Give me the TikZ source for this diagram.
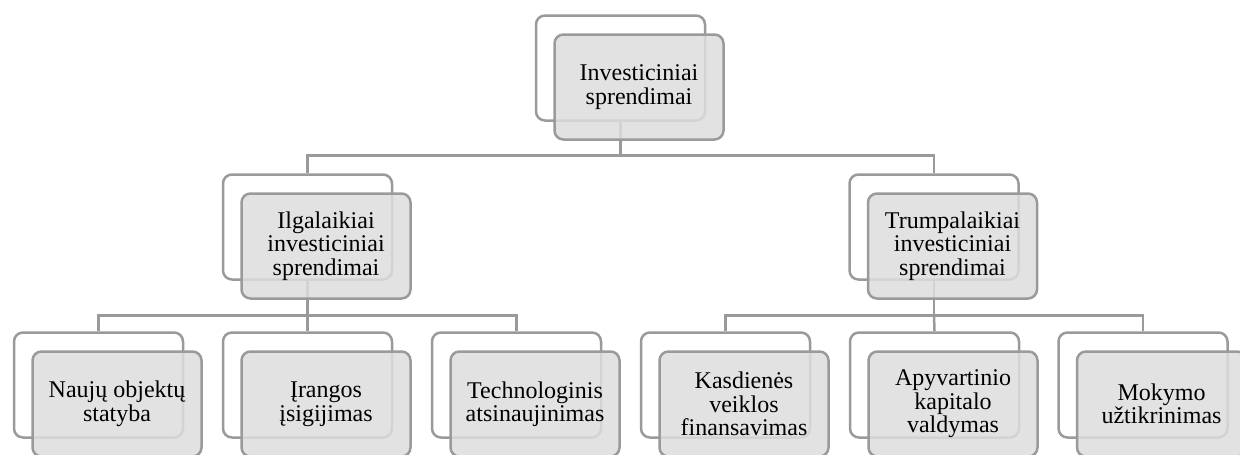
\documentclass[tikz,border=0pt]{standalone}
\usepackage{fontspec}
\setmainfont{Liberation Serif}
\definecolor{edgegray}{RGB}{154,154,154}
\definecolor{boxfill}{RGB}{221,221,221}
\tikzset{
  backbox/.style={draw=edgegray, line width=2.5pt, rounded corners=9pt,
    minimum width=169pt, minimum height=105pt, inner sep=0pt},
  frontbox/.style={draw=edgegray, line width=2.5pt, rounded corners=9pt,
    fill=boxfill, fill opacity=0.85, text opacity=1,
    minimum width=169pt, minimum height=105pt, inner sep=0pt,
    align=center, font=\fontsize{24}{23.5}\selectfont},
  conn/.style={draw=edgegray, line width=2.5pt}
}
\begin{document}
\begin{tikzpicture}[x=1pt,y=-1pt]
\useasboundingbox (0,0) rectangle (1240,455);
% back boxes
\node[backbox] (t) at (620.5,68) {};
\node[backbox] (l) at (307.5,227) {};
\node[backbox] (r) at (934,227) {};
\node[backbox] (a) at (98.5,385) {};
\node[backbox] (b) at (307.5,385) {};
\node[backbox] (c) at (516.5,385) {};
\node[backbox] (d) at (725.5,385) {};
\node[backbox] (e) at (934.5,385) {};
\node[backbox] (f) at (1143,385) {};
% bus coordinates
\coordinate (bus1) at (0,155.5);
\coordinate (bus2) at (0,315.5);
% connectors
\draw[conn] (t.south) -- (t.south |- bus1) -| (l.north);
\draw[conn] (t.south |- bus1) -| (r.north);
\draw[conn] (l.south) -- (l.south |- bus2) -| (a.north);
\draw[conn] (l.south |- bus2) -- (b.north);
\draw[conn] (l.south |- bus2) -| (c.north);
\draw[conn] (r.south) -- (r.south |- bus2) -| (d.north);
\draw[conn] (r.south |- bus2) -- (e.north);
\draw[conn] (r.south |- bus2) -| (f.north);
% front boxes
\node[frontbox] (tf) at ([shift={(18.5,19)}]t.center) {Investiciniai\\sprendimai};
\node[frontbox] (lf) at ([shift={(18.5,19)}]l.center) {Ilgalaikiai\\investiciniai\\sprendimai};
\node[frontbox] (rf) at ([shift={(18.5,19)}]r.center) {Trumpalaikiai\\investiciniai\\sprendimai};
\node[frontbox] (af) at ([shift={(18.5,19)}]a.center) {Naujų objektų\\statyba};
\node[frontbox] (bf) at ([shift={(18.5,19)}]b.center) {Įrangos\\įsigijimas};
\node[frontbox] (cf) at ([shift={(18.5,19)}]c.center) {Technologinis\\atsinaujinimas};
\node[frontbox] (df) at ([shift={(18.5,19)}]d.center) {Kasdienės\\veiklos\\finansavimas};
\node[frontbox] (ef) at ([shift={(18.5,19)}]e.center) {Apyvartinio\\kapitalo\\valdymas};
\node[frontbox] (ff) at ([shift={(18.5,19)}]f.center) {Mokymo\\užtikrinimas};
\end{tikzpicture}
\end{document}
